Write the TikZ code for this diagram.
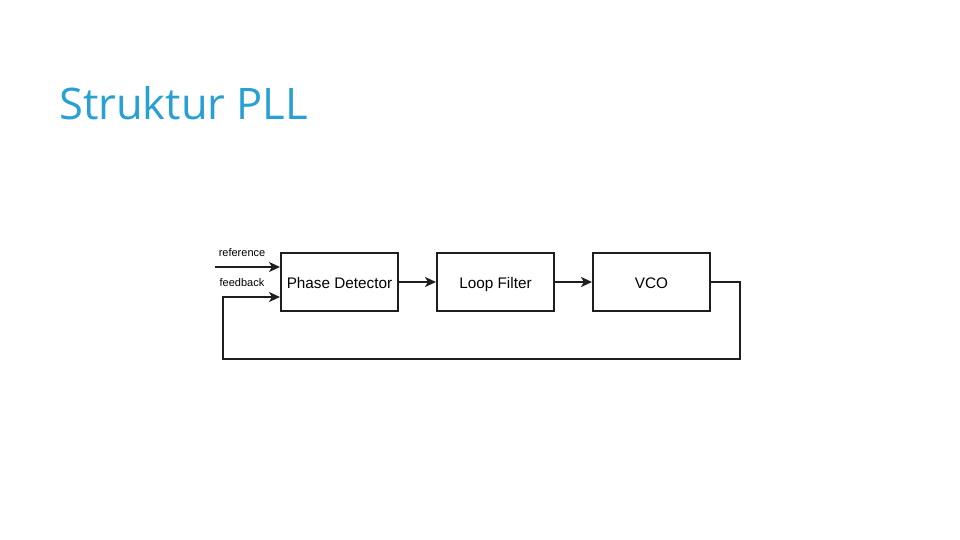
\documentclass[tikz,border=0pt]{standalone}
\usepackage{fontspec}
\setmainfont{Liberation Sans}
\newfontfamily\titlefont{Open Sans}
\usetikzlibrary{arrows.meta,positioning}
\definecolor{titleblue}{RGB}{41,160,212}
\definecolor{linegray}{RGB}{30,30,30}

\begin{document}
\begin{tikzpicture}[
            x=1pt, y=-1pt,
            node distance=37pt,
            box/.style={draw=linegray, line width=2pt, minimum width=117pt, minimum height=58pt, align=center, inner sep=0pt, text height=13.5pt, text depth=0pt, font=\fontsize{15.3}{17}\selectfont},
            lbl/.style={font=\fontsize{11}{13}\selectfont, inner sep=0pt},
            link/.style={draw=linegray, line width=2pt, -{Stealth[length=11pt,width=10pt,inset=3pt]}},
            >=Stealth
        ]
        \useasboundingbox (0,0) rectangle (960,540);
        \node[anchor=base west, inner sep=0pt, text=titleblue, font=\titlefont\fontsize{43.5}{50}\selectfont] (title) at (59,120) {Struktur PLL};

        \node[box] (pd) at (339.5,282) {Phase Detector};
        \node[box, right=of pd] (lf) {Loop Filter};
        \node[box, right=of lf] (vco) {VCO};

        \node[lbl] (reflbl) at (242,253) {reference};
        \node[lbl] (fblbl) at (242,283) {feedback};

        \coordinate (refin) at (215,267);
        \coordinate (fbr) at (740,359);
        \coordinate (fbl) at (223,359);

        \draw[link] (refin) -- (refin -| pd.west);
        \draw[link] (pd) -- (lf);
        \draw[link] (lf) -- (vco);
        \draw[link] (vco.east) -| (fbr) -- (fbl) |- ([yshift=-15pt]pd.west);
    \end{tikzpicture}
\end{document}
